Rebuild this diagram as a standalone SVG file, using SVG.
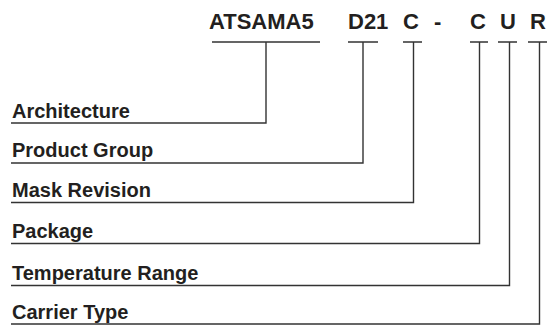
<svg xmlns="http://www.w3.org/2000/svg" width="551" height="325" viewBox="0 0 551 325">
<style>
.code{font-family:"Liberation Sans",Arial,sans-serif;font-weight:bold;font-size:22px;fill:#231f20}
.lbl{font-family:"Liberation Sans",Arial,sans-serif;font-weight:bold;font-size:20px;fill:#231f20}
.ln{fill:none;stroke:#333;stroke-width:1.4}
</style>
<rect width="551" height="325" fill="#fff"/>
<g id="code">
<text class="code" x="209" y="28.5">ATSAMA5</text>
<text class="code" x="348" y="28.5">D21</text>
<text class="code" x="403" y="28.5">C</text>
<text class="code" x="434" y="28.5">-</text>
<text class="code" x="470" y="28.5">C</text>
<text class="code" x="500" y="28.5">U</text>
<text class="code" x="530" y="28.5">R</text>
</g>
<g id="architecture"><text class="lbl" x="12" y="118.3">Architecture</text></g>
<g id="product-group"><text class="lbl" x="12" y="157">Product Group</text></g>
<g id="mask-revision"><text class="lbl" x="12" y="196.5">Mask Revision</text></g>
<g id="package"><text class="lbl" x="12" y="238">Package</text></g>
<g id="temperature-range"><text class="lbl" x="12" y="279.5">Temperature Range</text></g>
<g id="carrier-type"><text class="lbl" x="12" y="318.5">Carrier Type</text></g>
<g id="connectors">
<path class="ln" d="M212 42H320M266 42V123H11"/>
<path class="ln" d="M348 42H378M363 42V163H11"/>
<path class="ln" d="M403 42H422M413.5 42V202.5H11"/>
<path class="ln" d="M470 42H488M479.5 42V243.5H11"/>
<path class="ln" d="M498 42H517M509.5 42V285.5H11"/>
<path class="ln" d="M528 42H547M539.5 42V324H11"/>
</g>
</svg>
